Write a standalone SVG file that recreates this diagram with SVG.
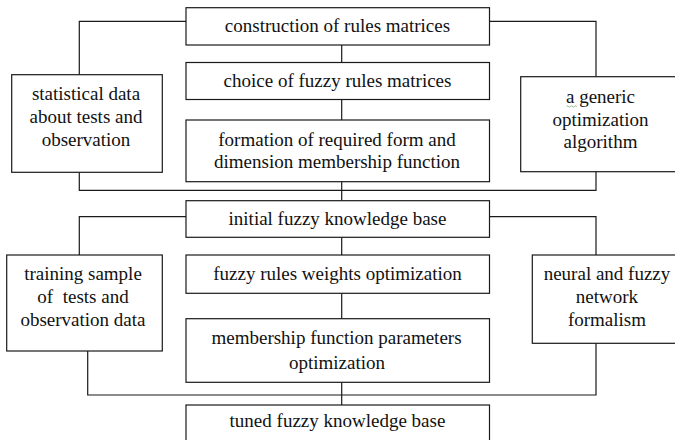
<svg xmlns="http://www.w3.org/2000/svg" width="675" height="440" viewBox="0 0 675 440">
<style>
.box{fill:#fff;stroke:#1a1a1a;stroke-width:1.2}
.ln{fill:none;stroke:#1a1a1a;stroke-width:1.2}
.t{font-family:'Liberation Serif','Times New Roman','DejaVu Serif',serif;font-size:19px;fill:#111;text-anchor:middle}
</style>
<rect x="0" y="0" width="675" height="440" fill="#fff"/>
<g id="connectors">
<polyline class="ln" points="186,21.3 79.3,21.3 79.3,74.7"/>
<polyline class="ln" points="79.3,172.3 79.3,190.3 596,190.3 596,171.7"/>
<polyline class="ln" points="489.5,21.3 596,21.3 596,76.7"/>
<line class="ln" x1="341.7" y1="45" x2="341.7" y2="62.5"/>
<line class="ln" x1="341.7" y1="99.5" x2="341.7" y2="120"/>
<line class="ln" x1="341.7" y1="181.7" x2="341.7" y2="200.7"/>
<polyline class="ln" points="186,216.7 79.3,216.7 79.3,255"/>
<polyline class="ln" points="489.5,216.7 596,216.7 596,255"/>
<polyline class="ln" points="87.7,351 87.7,395 596,395 596,343.3"/>
<line class="ln" x1="341.7" y1="237.3" x2="341.7" y2="255"/>
<line class="ln" x1="341.7" y1="293.3" x2="341.7" y2="318.7"/>
<line class="ln" x1="341.7" y1="382.3" x2="341.7" y2="405"/>
</g>
<g class="t" font-family="Liberation Serif, Times New Roman, serif">
<g id="construction">
<rect class="box" x="186" y="7.7" width="303.5" height="37.3"/>
<text x="337.5" y="32">construction of rules matrices</text>
</g>
<g id="choice">
<rect class="box" x="186" y="62.5" width="303.5" height="37"/>
<text x="337.5" y="86.5">choice of fuzzy rules matrices</text>
</g>
<g id="formation">
<rect class="box" x="186" y="120" width="303.5" height="61.7"/>
<text x="337" y="145.5">formation of required form and</text>
<text x="337" y="167.5">dimension membership function</text>
</g>
<g id="statistical">
<rect class="box" x="11.7" y="74.7" width="150.6" height="97.6"/>
<text x="86" y="100">statistical data</text>
<text x="86" y="123">about tests and</text>
<text x="86" y="146">observation</text>
</g>
<g id="generic">
<rect class="box" x="520.7" y="76.7" width="160" height="95"/>
<text x="600.5" y="103.3">a generic</text>
<path d="M566.5,106.5 q1,-1.2 2,0 t2,0 t2,0 t2,0 t2,0" fill="none" stroke="#6aa86a" stroke-width="0.8"/>
<text x="600.5" y="125.5">optimization</text>
<text x="600.5" y="147.5">algorithm</text>
</g>
<g id="initial">
<rect class="box" x="186" y="200.7" width="303.5" height="36.6"/>
<text x="337.5" y="224.5">initial fuzzy knowledge base</text>
</g>
<g id="weights">
<rect class="box" x="186" y="255" width="303.5" height="38.3"/>
<text x="337.5" y="279.5">fuzzy rules weights optimization</text>
</g>
<g id="membership">
<rect class="box" x="186" y="318.7" width="303.5" height="63.6"/>
<text x="336.5" y="343.5">membership function parameters</text>
<text x="337" y="368.5">optimization</text>
</g>
<g id="training">
<rect class="box" x="6.7" y="255" width="155.6" height="96"/>
<text x="83" y="280">training sample</text>
<text x="83" y="303.3" xml:space="preserve" style="white-space:pre">of  tests and</text>
<text x="83" y="326">observation data</text>
</g>
<g id="neural">
<rect class="box" x="532.3" y="255" width="150" height="88.3"/>
<text x="607" y="280">neural and fuzzy</text>
<text x="607" y="303.3">network</text>
<text x="607" y="326">formalism</text>
</g>
<g id="tuned">
<rect class="box" x="186" y="405" width="303.5" height="45"/>
<text x="337.5" y="427">tuned fuzzy knowledge base</text>
</g>
</g>
</svg>
